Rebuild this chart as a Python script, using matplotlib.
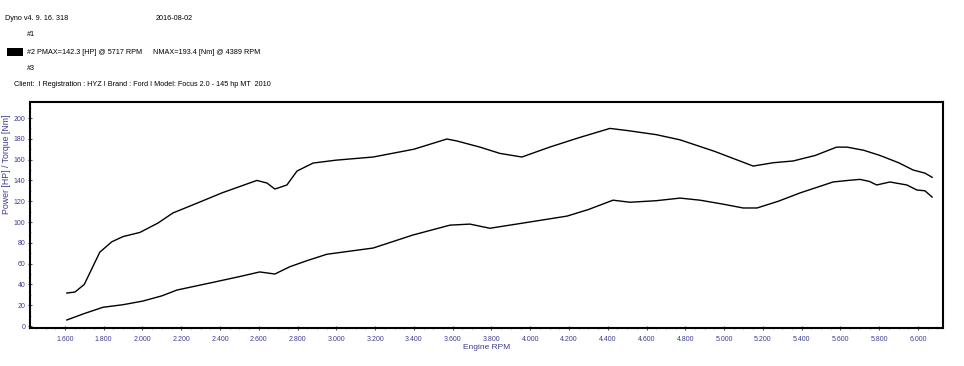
import matplotlib
matplotlib.use("Agg")
import matplotlib.pyplot as plt
from matplotlib.ticker import MultipleLocator, FuncFormatter
from matplotlib.patches import Rectangle

# --- data ---
torque_rpm = [1610, 1652, 1700, 1780, 1842, 1900, 1987, 2080, 2157, 2280, 2410, 2500, 2590,
              2642, 2683, 2745, 2797, 2880, 3000, 3190, 3400, 3570, 3620, 3741, 3843, 3957,
              4100, 4250, 4411, 4499, 4650, 4773, 4950, 5150, 5253, 5356, 5470, 5580, 5634,
              5720, 5804, 5900, 5975, 6036, 6073]
torque_nm = [31.7, 32.7, 40, 71, 81, 86, 90, 99, 108.7, 118, 128, 134, 140,
             137.5, 131.7, 135.6, 149, 156.7, 159.5, 162.5, 170, 179.8, 178, 172, 166, 162.5,
             172, 181, 190, 188, 184, 179, 168, 153.8, 157, 158.7, 164, 172, 172,
             169, 164, 157, 150, 147, 143]

power_rpm = [1610, 1700, 1796, 1900, 2002, 2100, 2178, 2364, 2500, 2605, 2683, 2760, 2851,
             2951, 3190, 3395, 3586, 3689, 3792, 3963, 4190, 4300, 4427, 4515, 4650, 4773,
             4876, 5000, 5098, 5170, 5280, 5392, 5562, 5640, 5701, 5750, 5787, 5855, 5943,
             5994, 6036, 6073]
power_hp = [5.8, 12, 18, 20.5, 24, 29, 34.6, 42, 47.5, 52, 50, 57, 63,
            69, 75, 87.5, 97, 98, 94, 99, 105.7, 112, 121, 119, 120.5, 123,
            121, 117, 113.5, 113.5, 120, 128, 138.5, 140, 141, 139, 135.6, 138.5, 135.6,
            130.8, 130, 124]

x_ticks = list(range(1600, 6001, 200))
y_ticks = list(range(0, 201, 20))

header_version = "Dyno v4. 9. 16. 318"
header_date = "2016-08-02"
run1 = "#1"
run2 = "#2 PMAX=142.3 [HP] @ 5717 RPM"
run2_torque = "NMAX=193.4 [Nm] @ 4389 RPM"
run3 = "#3"
client_line = "Client:  I Registration : HYZ I Brand : Ford I Model: Focus 2.0 - 145 hp MT  2010"
ylabel = "Power [HP] / Torque [Nm]"
xlabel = "Engine RPM"

W, H = 964, 366
navy = "#3d3d8f"
fam = ["Liberation Sans Narrow", "Liberation Sans", "DejaVu Sans"]
plt.rcParams["font.family"] = fam

fig = plt.figure(figsize=(W / 100, H / 100), dpi=100)
ax = fig.add_axes([30 / W, 1 - 328 / H, (943 - 30) / W, (328 - 102) / H])

ax.plot(torque_rpm, torque_nm, color="black", lw=1.0)
ax.plot(power_rpm, power_hp, color="black", lw=1.0)

ax.set_xlim(1420, 6129)
ax.set_ylim(-1.9, 215.4)
ax.set_xticks(x_ticks)
ax.set_yticks(y_ticks)
ax.xaxis.set_major_formatter(FuncFormatter(lambda v, p: f"{int(v)//1000}.{int(v)%1000:03d}"))
ax.xaxis.set_minor_locator(MultipleLocator(50))
ax.yaxis.set_minor_locator(MultipleLocator(10))
ax.tick_params(axis="both", which="major", labelsize=5, labelcolor=navy, color="#555555",
               length=3, width=0.8, direction="inout")
ax.tick_params(axis="x", which="major", pad=4)
ax.tick_params(axis="y", which="major", pad=2)
ax.tick_params(axis="both", which="minor", color="#777777", length=2, width=0.6, direction="inout")
for s in ax.spines.values():
    s.set_linewidth(1.5)
    s.set_color("black")

ax.set_xlabel(xlabel, fontsize=6, color=navy, labelpad=1)
fig.text(7 / W, 1 - 164 / H, ylabel, rotation=90, fontsize=6.3, color=navy,
         ha="center", va="center")

# header texts
fs = 5.2
fig.text(5 / W, 1 - 19 / H, header_version, fontsize=fs, va="center", ha="left")
fig.text(156 / W, 1 - 19 / H, header_date, fontsize=fs, va="center", ha="left")
fig.text(27 / W, 1 - 34 / H, run1, fontsize=fs, va="center", ha="left")
fig.patches.append(Rectangle((7 / W, 1 - 56 / H), 16 / W, 8 / H, transform=fig.transFigure,
                             facecolor="black", edgecolor="none"))
fig.text(27 / W, 1 - 52 / H, run2, fontsize=fs, va="center", ha="left")
fig.text(153 / W, 1 - 52 / H, run2_torque, fontsize=fs, va="center", ha="left")
fig.text(27 / W, 1 - 68 / H, run3, fontsize=fs, va="center", ha="left")
fig.text(14 / W, 1 - 84 / H, client_line, fontsize=fs, va="center", ha="left")

fig.savefig("out.png", dpi=100, facecolor="white")
